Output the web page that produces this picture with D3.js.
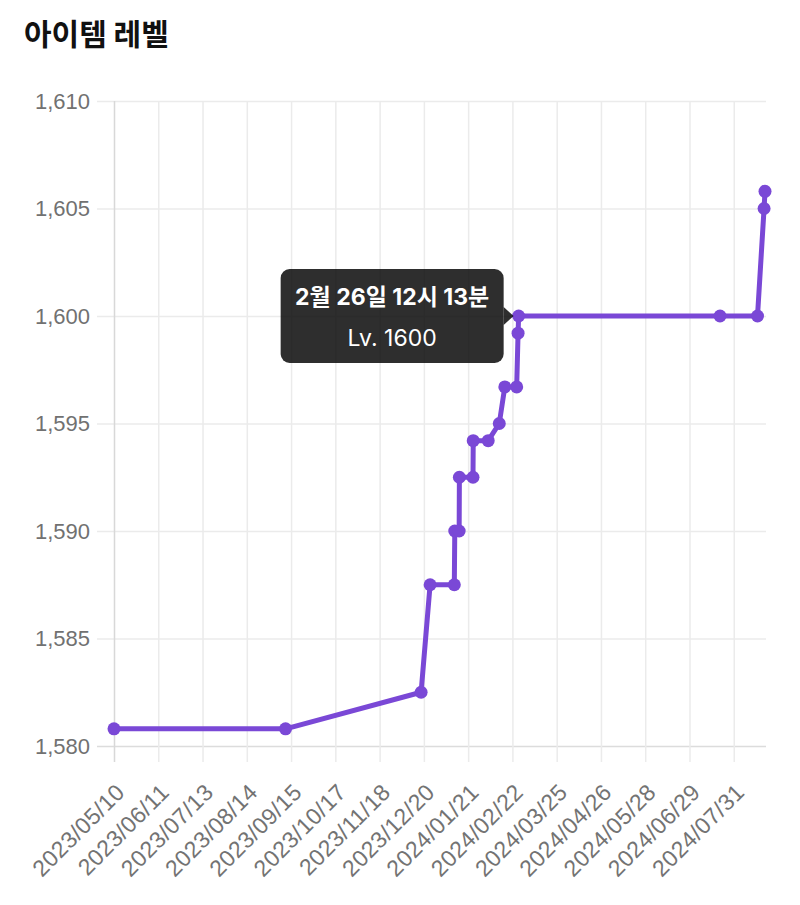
<!DOCTYPE html>
<html>
<head>
<meta charset="utf-8">
<script src="https://cdn.jsdelivr.net/npm/d3@7"></script>
<style>
  html, body { margin: 0; padding: 0; background: #ffffff; }
  svg { display: block; font-family: Inter, "Noto Sans CJK KR", sans-serif; }
</style>
</head>
<body>
<svg id="chart" width="800" height="905"></svg>
<script>
// ---- data ----
const chartTitle = "아이템 레벨";
const dates = [
  "2023-05-10T00:00", "2023-09-11T00:00", "2023-12-18T00:00", "2023-12-24T12:00",
  "2024-01-11T00:00", "2024-01-11T08:00", "2024-01-14T12:00", "2024-01-14T16:00",
  "2024-01-24T12:00", "2024-01-24T16:00", "2024-02-04T12:00", "2024-02-12T12:00",
  "2024-02-16T12:00", "2024-02-25T02:00", "2024-02-26T02:00", "2024-02-26T12:13",
  "2024-07-21T02:00", "2024-08-17T04:00", "2024-08-21T22:00", "2024-08-22T14:00"
];
const levels = [
  1580.8, 1580.8, 1582.5, 1587.5,
  1587.5, 1590.0, 1590.0, 1592.5,
  1592.5, 1594.2, 1594.2, 1595.0,
  1596.7, 1596.7, 1599.2, 1600.0,
  1600.0, 1600.0, 1605.0, 1605.8
];
const xTickLabels = [
  "2023/05/10", "2023/06/11", "2023/07/13", "2023/08/14", "2023/09/15",
  "2023/10/17", "2023/11/18", "2023/12/20", "2024/01/21", "2024/02/22",
  "2024/03/25", "2024/04/26", "2024/05/28", "2024/06/29", "2024/07/31"
];
const yTicks = [1580, 1585, 1590, 1595, 1600, 1605, 1610];
const tooltipIndex = 15;
const tooltipTitle = "2월 26일 12시 13분";
const tooltipBody = "Lv. 1600";

// ---- drawing ----
(function () {
const parseT = d3.utcParse("%Y-%m-%dT%H:%M");
const parseTick = d3.utcParse("%Y/%m/%d");
const data = dates.map((d, i) => ({ t: parseT(d), v: levels[i] }));
const tickDates = xTickLabels.map(parseTick);

const svg = d3.select("#chart");
const mL = 114, mR = 765, mT = 101, mB = 746;

const x = d3.scaleUtc().domain(d3.extent(data, d => d.t)).range([mL, mR]);
const y = d3.scaleLinear().domain([1580, 1610]).range([mB, mT]);

svg.append("text")
  .attr("x", 24).attr("y", 45)
  .attr("font-family", "'Noto Sans CJK KR', sans-serif")
  .attr("font-size", 30).attr("font-weight", 700)
  .attr("fill", "#111")
  .text(chartTitle);

// horizontal grid (y axis)
const yAxis = d3.axisLeft(y).tickValues(yTicks)
  .tickSize(-(mR - mL) - 1).tickPadding(24)
  .tickFormat(d3.format(","));
const gy = svg.append("g").attr("transform", `translate(${mL},0)`).call(yAxis);
gy.select(".domain").remove();
gy.selectAll(".tick line").attr("x1", -17).attr("stroke", d => d === 1580 ? "#dcdcdc" : "#ebebeb").attr("stroke-width", 1.5);
gy.selectAll(".tick text").attr("font-size", 22).attr("fill", "#717171").attr("x", -24);

// vertical grid (x axis)
const xAxis = d3.axisBottom(x).tickValues(tickDates)
  .tickSize(-(mB - mT)).tickFormat((d, i) => xTickLabels[i]);
const gx = svg.append("g").attr("transform", `translate(0,${mB})`).call(xAxis);
gx.select(".domain").remove();
gx.selectAll(".tick line").attr("y2", 16).attr("y1", -(mB - mT))
  .attr("stroke", (d, i) => i === 0 ? "#d8d8d8" : "#ebebeb").attr("stroke-width", 1.5);
gx.selectAll(".tick text")
  .attr("font-size", 23).attr("fill", "#737373")
  .attr("font-weight", 300)
  .attr("letter-spacing", "0.4px")
  .attr("text-anchor", "end")
  .attr("dy", "0.35em")
  .attr("y", 0)
  .attr("transform", "translate(6,42) rotate(-45)");

// line
const lineGen = d3.line().x(d => x(d.t)).y(d => y(d.v));
const purple = "#7a48d6";
svg.append("path").datum(data)
  .attr("d", lineGen)
  .attr("fill", "none").attr("stroke", purple)
  .attr("stroke-width", 5).attr("stroke-linejoin", "round");

svg.append("g").selectAll("circle").data(data).join("circle")
  .attr("cx", d => x(d.t)).attr("cy", d => y(d.v)).attr("r", 6.5)
  .attr("fill", purple);

// tooltip
const tp = data[tooltipIndex];
const px = x(tp.t), py = y(tp.v);
const boxW = 223, boxH = 94;
const bx = px - 15 - boxW, byy = py - boxH / 2;
const tg = svg.append("g");
tg.append("rect").attr("x", bx).attr("y", byy).attr("width", boxW).attr("height", boxH)
  .attr("rx", 9).attr("fill", "rgba(0,0,0,0.82)");
tg.append("path")
  .attr("d", `M${bx + boxW},${py - 9} L${px - 5},${py} L${bx + boxW},${py + 9} Z`)
  .attr("fill", "rgba(0,0,0,0.82)");
tg.append("text").attr("x", bx + boxW / 2).attr("y", byy + 36)
  .attr("text-anchor", "middle").attr("font-size", 23).attr("font-weight", 700)
  .attr("fill", "#fff").text(tooltipTitle);
tg.append("text").attr("x", bx + boxW / 2).attr("y", byy + 77)
  .attr("text-anchor", "middle").attr("font-size", 23)
  .attr("fill", "#fff").text(tooltipBody);
})();
</script>
</body>
</html>
